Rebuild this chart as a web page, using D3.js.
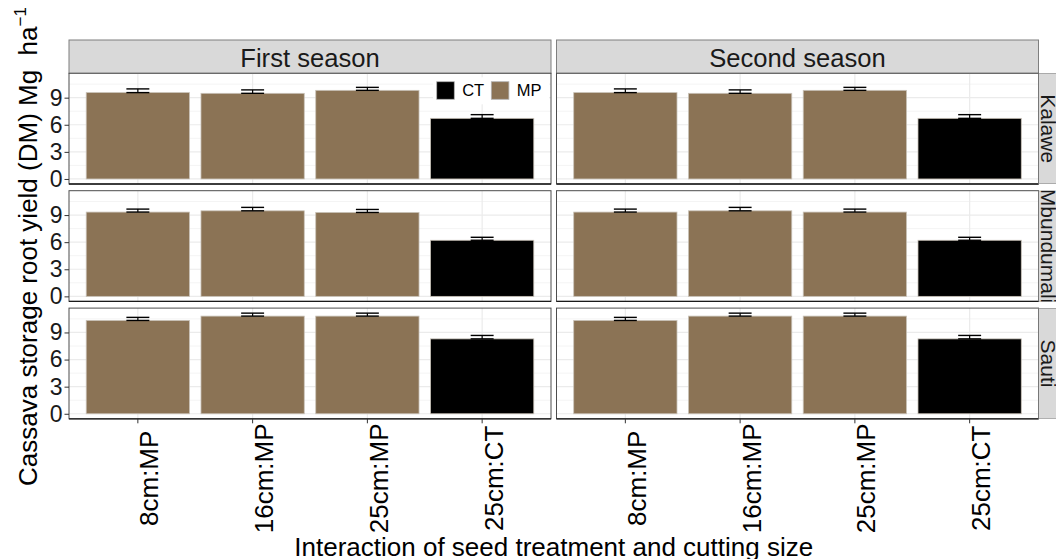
<!DOCTYPE html>
<html>
<head>
<meta charset="utf-8">
<script src="https://cdn.jsdelivr.net/npm/d3@7"></script>
<style>
  html, body { margin: 0; padding: 0; background: #ffffff; }
  svg { display: block; font-family: "Liberation Sans", Arial, sans-serif; }
</style>
</head>
<body>
<svg id="chart" width="1056" height="559"></svg>
<script>
// Cassava storage root yield by cutting size and seed treatment,
// faceted by season (columns) and site (rows).
const seasons = ["First season", "Second season"];
const sites = ["Kalawe", "Mbundumali", "Sauti"];
const treatments = ["8cm:MP", "16cm:MP", "25cm:MP", "25cm:CT"];
const seedTreatment = ["MP", "MP", "MP", "CT"];
const legendKeys = ["CT", "MP"];
const yTicks = [0, 3, 6, 9];
const yMinorTicks = [1.5, 4.5, 7.5, 10.5];

// Mean yield (Mg ha-1), one row per site
const yieldFirstSeason = [
  [9.56, 9.48, 9.81, 6.71],
  [9.33, 9.47, 9.29, 6.21],
  [10.33, 10.81, 10.81, 8.29]
];
const yieldSecondSeason = [
  [9.56, 9.48, 9.81, 6.71],
  [9.33, 9.47, 9.33, 6.21],
  [10.33, 10.81, 10.81, 8.29]
];
// Standard errors
const seFirstSeason = [
  [0.41, 0.38, 0.33, 0.41],
  [0.33, 0.38, 0.33, 0.33],
  [0.34, 0.33, 0.33, 0.38]
];
const seSecondSeason = [
  [0.41, 0.38, 0.33, 0.41],
  [0.33, 0.38, 0.33, 0.33],
  [0.34, 0.33, 0.33, 0.38]
];

const fillColor = { MP: "#8B7355", CT: "#000000" };

const svg = d3.select("#chart");

// facet geometry
const colX = [69, 556.5];
const panelW = 482;
const rowY = [73.3, 190.7, 308.1];
const panelH = 110.7;
const stripTop = 40;
const stripW = 33.3;

const yieldsBySeason = [yieldFirstSeason, yieldSecondSeason];
const seBySeason = [seFirstSeason, seSecondSeason];

const allTops = [];
yieldsBySeason.forEach((s, si) => s.forEach((row, ri) => row.forEach((v, i) => allTops.push(v + seBySeason[si][ri][i]))));
const yMax = d3.max(allTops);
const pad = yMax * 0.05;

const x = d3.scaleBand().domain(treatments).range([0, panelW]).paddingInner(0.1).paddingOuter(0.15);
const y = d3.scaleLinear().domain([-pad, yMax + pad]).range([panelH, 0]);

const defs = svg.append("defs");

seasons.forEach((season, si) => {
  const px = colX[si];

  // top strip
  const strip = svg.append("g").attr("transform", `translate(${px},${stripTop})`);
  strip.append("rect").attr("width", panelW).attr("height", rowY[0] - stripTop)
    .attr("fill", "#d9d9d9").attr("stroke", "#7f7f7f").attr("stroke-width", 1);
  strip.append("text").attr("x", panelW / 2).attr("y", 26.5)
    .attr("text-anchor", "middle").attr("font-size", 25.6).attr("fill", "#1a1a1a").text(season);

  sites.forEach((site, ri) => {
    const py = rowY[ri];
    const g = svg.append("g").attr("transform", `translate(${px},${py})`);
    const vals = yieldsBySeason[si][ri];
    const ses = seBySeason[si][ri];

    g.append("rect").attr("width", panelW).attr("height", panelH).attr("fill", "#ffffff");

    // minor grid
    g.selectAll(".minor").data(yMinorTicks).join("line")
      .attr("x1", 0).attr("x2", panelW)
      .attr("y1", d => y(d)).attr("y2", d => y(d))
      .attr("stroke", "#f4f4f4").attr("stroke-width", 1);
    // major grid
    g.selectAll(".majorY").data(yTicks).join("line")
      .attr("x1", 0).attr("x2", panelW)
      .attr("y1", d => y(d)).attr("y2", d => y(d))
      .attr("stroke", "#ebebeb").attr("stroke-width", 1.2);
    g.selectAll(".majorX").data(treatments).join("line")
      .attr("x1", d => x(d) + x.bandwidth() / 2).attr("x2", d => x(d) + x.bandwidth() / 2)
      .attr("y1", 0).attr("y2", panelH)
      .attr("stroke", "#ebebeb").attr("stroke-width", 1.2);

    // bars
    g.selectAll(".bar").data(treatments).join("rect")
      .attr("x", d => x(d)).attr("width", x.bandwidth())
      .attr("y", (d, i) => y(vals[i])).attr("height", (d, i) => y(0) - y(vals[i]))
      .attr("fill", (d, i) => fillColor[seedTreatment[i]])
      .attr("stroke", "#c9c2b8").attr("stroke-width", 0.8);

    // error bars
    const capHalf = x.step() * 0.1;
    const eb = g.selectAll(".eb").data(treatments).join("g")
      .attr("transform", d => `translate(${x(d) + x.bandwidth() / 2},0)`);
    eb.append("line").attr("x1", 0).attr("x2", 0)
      .attr("y1", (d, i) => y(vals[i])).attr("y2", (d, i) => y(vals[i] + ses[i]))
      .attr("stroke", "#000").attr("stroke-width", 1.2);
    eb.append("line").attr("x1", -capHalf).attr("x2", capHalf)
      .attr("y1", (d, i) => y(vals[i])).attr("y2", (d, i) => y(vals[i]))
      .attr("stroke", "#000").attr("stroke-width", 1.4);
    eb.append("line").attr("x1", -capHalf).attr("x2", capHalf)
      .attr("y1", (d, i) => y(vals[i] + ses[i])).attr("y2", (d, i) => y(vals[i] + ses[i]))
      .attr("stroke", "#000").attr("stroke-width", 1.4);

    // panel border
    g.append("rect").attr("width", panelW).attr("height", panelH)
      .attr("fill", "none").attr("stroke", "#4d4d4d").attr("stroke-width", 1);
    g.append("line").attr("x1", 0).attr("x2", panelW).attr("y1", panelH).attr("y2", panelH)
      .attr("stroke", "#1a1a1a").attr("stroke-width", 1.3);

    // y axis on the left column
    if (si === 0) {
      const ya = g.append("g").call(d3.axisLeft(y).tickValues(yTicks).tickSize(4.5).tickPadding(2));
      ya.select(".domain").remove();
      ya.selectAll(".tick line").attr("stroke", "#333");
      ya.selectAll(".tick text").attr("font-size", 23).attr("fill", "#1a1a1a")
        .attr("font-family", "Liberation Sans, Arial, sans-serif");
    }

    // right strip
    if (si === 1) {
      const cid = `clip-strip-${ri}`;
      defs.append("clipPath").attr("id", cid).append("rect")
        .attr("x", panelW).attr("y", 0).attr("width", stripW).attr("height", panelH);
      const rs = g.append("g").attr("clip-path", `url(#${cid})`);
      rs.append("rect").attr("x", panelW).attr("y", 0).attr("width", stripW).attr("height", panelH)
        .attr("fill", "#d9d9d9").attr("stroke", "#7f7f7f").attr("stroke-width", 1);
      rs.append("text")
        .attr("transform", `translate(${panelW + 2.3},${panelH / 2}) rotate(90)`)
        .attr("text-anchor", "middle").attr("font-size", 21).attr("fill", "#1a1a1a").text(site);
    }

    // x axis ticks and labels on the bottom row
    if (ri === sites.length - 1) {
      const xa = g.append("g").attr("transform", `translate(0,${panelH})`)
        .call(d3.axisBottom(x).tickSize(4.5).tickFormat(""));
      xa.select(".domain").remove();
      xa.selectAll(".tick line").attr("stroke", "#333");
      g.selectAll(".xlab").data(treatments).join("text")
        .attr("transform", d => `translate(${x(d) + x.bandwidth() / 2 + 20.5},${478.3 - py}) rotate(-90)`)
        .attr("text-anchor", "middle").attr("font-size", 26).attr("fill", "#000")
        .text(d => d);
    }

    // legend inside the first panel
    if (si === 0 && ri === 0) {
      const lg = g.append("g").attr("transform", `translate(364,0)`);
      lg.append("rect").attr("x", 0).attr("y", 4).attr("width", 116).attr("height", 27).attr("fill", "#ffffff");
      const keyX = [3.7, 58.3];
      legendKeys.forEach((k, i) => {
        lg.append("rect").attr("x", keyX[i]).attr("y", 8.4).attr("width", 17.6).attr("height", 17.6)
          .attr("fill", fillColor[k]).attr("stroke", "#b3b3b3").attr("stroke-width", 0.8);
        lg.append("text").attr("x", keyX[i] + 25.5).attr("y", 23.2).attr("font-size", 16.5)
          .attr("fill", "#000").text(k);
      });
    }
  });
});

// axis titles
svg.append("text")
  .attr("x", (colX[0] + colX[1] + panelW) / 2).attr("y", 556)
  .attr("text-anchor", "middle").attr("font-size", 26).attr("fill", "#000")
  .text("Interaction of seed treatment and cutting size");

const yTitle = svg.append("text")
  .attr("transform", "translate(37,486) rotate(-90)")
  .attr("text-anchor", "start").attr("font-size", 26).attr("fill", "#000")
  .style("white-space", "pre");
yTitle.append("tspan").text("Cassava storage root yield (DM) Mg  ha");
yTitle.append("tspan").attr("dy", -11).attr("font-size", 17).text("\u22121");
</script>
</body>
</html>
